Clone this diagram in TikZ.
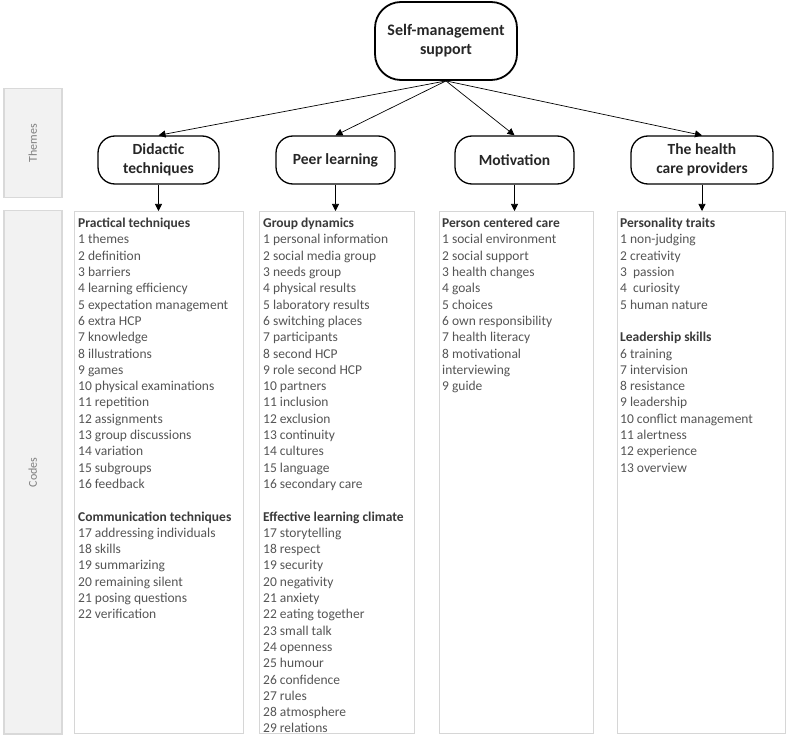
\documentclass[tikz,border=0pt]{standalone}
\usepackage{fontspec}
\setmainfont{Carlito}
\usepackage{xcolor}
\usepackage{tikz}
\usetikzlibrary{arrows.meta}
\usetikzlibrary{positioning, calc}

\definecolor{sidefill}{HTML}{F2F2F2}
\definecolor{sideline}{HTML}{D9D9D9}
\definecolor{boxline}{HTML}{D6D6D6}
\definecolor{itemgray}{HTML}{555555}
\definecolor{headgray}{HTML}{3A3A3A}

\tikzset{
    rootbox/.style={draw, line width=1.8pt, rounded corners=26pt,
        minimum width=142pt, minimum height=78pt, align=center, text=black!85,
        font=\fontsize{16}{19}\selectfont\bfseries},
    themebox/.style={draw, line width=1.3pt, rounded corners=17pt,
        minimum height=48pt, align=center, text=black!85,
        font=\fontsize{15.5}{19}\selectfont\bfseries},
    codebox/.style={draw=boxline, line width=1pt, fill=white, anchor=north west,
        inner sep=0pt, minimum height=522pt},
    sidebox/.style={draw=sideline, line width=1.5pt, fill=sidefill, anchor=north west,
        inner sep=0pt, minimum width=58pt},
    sidelabel/.style={rotate=90, text=black!50, font=\fontsize{12}{14}\selectfont},
    codetext/.style={anchor=north west, inner sep=0pt, align=left, text=itemgray,
        font=\fontsize{13.5}{16.3}\selectfont},
    arr/.style={-{Triangle[length=7pt,width=7pt]}, line width=0.7pt}
}
\newcommand{\hd}[1]{\textcolor{headgray}{\bfseries #1}}

\begin{document}
\begin{tikzpicture}[x=1pt, y=-1pt]
    \useasboundingbox (0,0) rectangle (787,738);
    % side bars
    \node[sidebox, minimum height=109pt] (themes) at (3,88) {};
    \node[sidelabel] (themeslabel) at (themes.center) {Themes};
    \node[sidebox, minimum height=523pt] (codes) at (3,210) {};
    \node[sidelabel] (codeslabel) at (codes.center) {Codes};
    % root and themes
    \node[rootbox] (root) at (446,41) {Self-management\\support};
    \node[themebox, minimum width=121pt] (did) at (158.5,160) {Didactic\\techniques};
    \node[themebox, minimum width=119pt] (peer) at (335.5,160) {Peer learning};
    \node[themebox, minimum width=119pt] (mot) at (514.5,160) {Motivation};
    \node[themebox, minimum width=142pt] (hcp) at (702,160) {The health\\care providers};
    % code boxes
    \node[codebox, minimum width=169pt] (did-codes) at (74,211) {};
    \node[codebox, minimum width=155pt] (peer-codes) at (259,211) {};
    \node[codebox, minimum width=154pt] (mot-codes) at (439,211) {};
    \node[codebox, minimum width=168pt] (hcp-codes) at (617,211) {};
    \foreach \t in {did,peer,mot,hcp}{
        \draw[arr] (root.south) -- (\t.north);
        \draw[arr] (\t.south) -- (\t.south |- \t-codes.north);
    }
    % code lists
    \node[codetext] (did-list) at (78,218) {\hd{Practical techniques}\\
        1 themes\\ 2 definition\\ 3 barriers\\ 4 learning efficiency\\
        5 expectation management\\ 6 extra HCP\\ 7 knowledge\\ 8 illustrations\\
        9 games\\ 10 physical examinations\\ 11 repetition\\ 12 assignments\\
        13 group discussions\\ 14 variation\\ 15 subgroups\\ 16 feedback\\[16.3pt]
        \hd{Communication techniques}\\ 17 addressing individuals\\ 18 skills\\
        19 summarizing\\ 20 remaining silent\\ 21 posing questions\\ 22 verification};
    \node[codetext] (peer-list) at (263,218) {\hd{Group dynamics}\\
        1 personal information\\ 2 social media group\\ 3 needs group\\
        4 physical results\\ 5 laboratory results\\ 6 switching places\\
        7 participants\\ 8 second HCP\\ 9 role second HCP\\ 10 partners\\
        11 inclusion\\ 12 exclusion\\ 13 continuity\\ 14 cultures\\ 15 language\\
        16 secondary care\\[16.3pt]
        \hd{Effective learning climate}\\ 17 storytelling\\ 18 respect\\
        19 security\\ 20 negativity\\ 21 anxiety\\ 22 eating together\\
        23 small talk\\ 24 openness\\ 25 humour\\ 26 confidence\\ 27 rules\\
        28 atmosphere\\ 29 relations};
    \node[codetext] (mot-list) at (442,218) {\hd{Person centered care}\\
        1 social environment\\ 2 social support\\ 3 health changes\\ 4 goals\\
        5 choices\\ 6 own responsibility\\ 7 health literacy\\ 8 motivational\\
        interviewing\\ 9 guide};
    \node[codetext] (hcp-list) at (620,218) {\hd{Personality traits}\\
        1 non-judging\\ 2 creativity\\ 3\ \ passion\\ 4\ \ curiosity\\
        5 human nature\\[16.3pt]
        \hd{Leadership skills}\\ 6 training\\ 7 intervision\\ 8 resistance\\
        9 leadership\\ 10 conflict management\\ 11 alertness\\ 12 experience\\
        13 overview};
\end{tikzpicture}
\end{document}
